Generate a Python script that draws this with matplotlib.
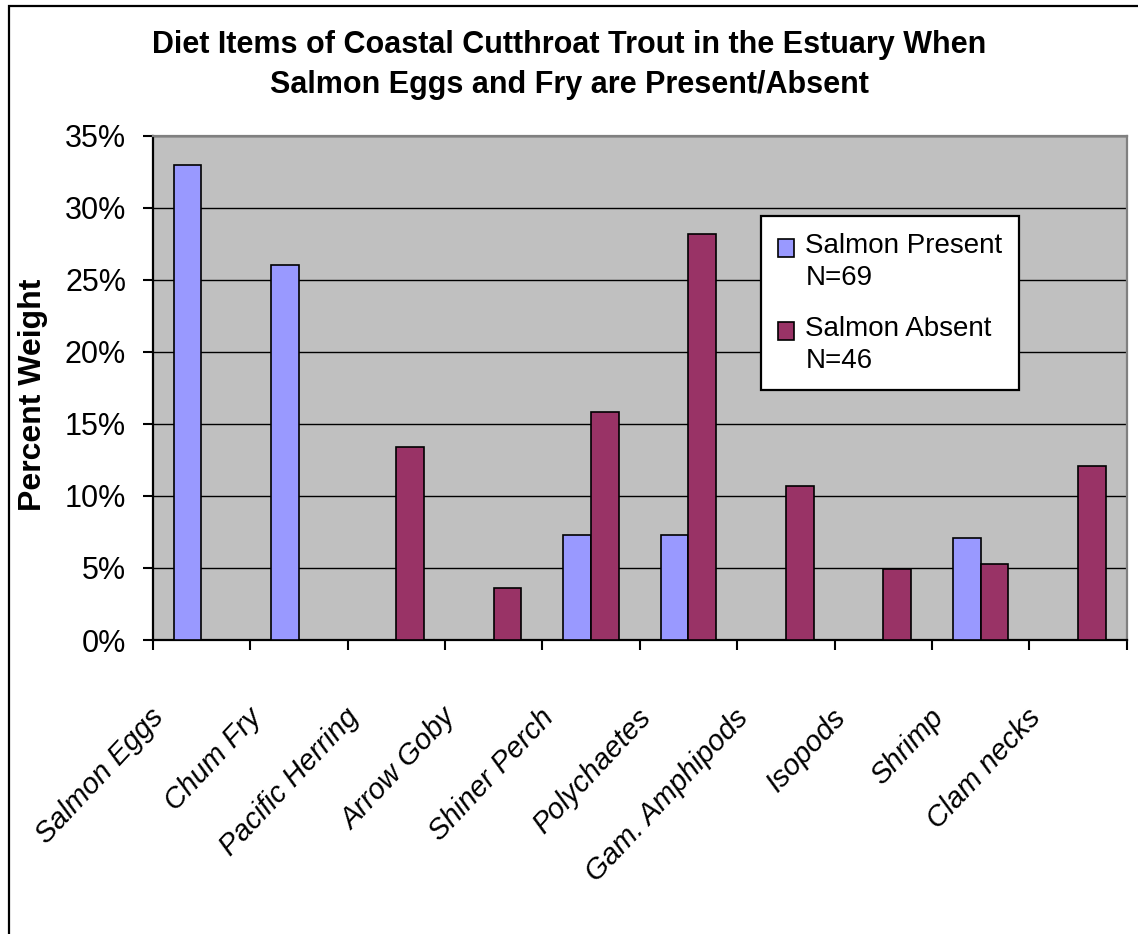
import matplotlib
import matplotlib.pyplot as plt
import numpy as np
from matplotlib.container import BarContainer
from matplotlib.legend_handler import HandlerPatch, update_from_first_child
from matplotlib.patches import Rectangle
from matplotlib.transforms import ScaledTranslation

matplotlib.use("Agg")

plt.rcParams["font.family"] = ["Liberation Sans", "DejaVu Sans"]

# Diet composition (percent weight) per prey item
ITEMS = [
    "Salmon Eggs", "Chum Fry", "Pacific Herring", "Arrow Goby", "Shiner Perch",
    "Polychaetes", "Gam. Amphipods", "Isopods", "Shrimp", "Clam necks",
]
PRESENT = [33.0, 26.0, 0.0, 0.0, 7.3, 7.3, 0.0, 0.0, 7.1, 0.0]
ABSENT = [0.0, 0.0, 13.4, 3.6, 15.8, 28.2, 10.7, 4.9, 5.3, 12.1]
SERIES = ["Salmon Present\nN=69", "Salmon Absent\nN=46"]
YTICKS = [0, 5, 10, 15, 20, 25, 30, 35]
TITLE = ("Diet Items of Coastal Cutthroat Trout in the Estuary When\n"
         "Salmon Eggs and Fry are Present/Absent")

C_PRESENT = "#9999FF"
C_ABSENT = "#993366"


def square_first_line(legend, orig_handle, xdescent, ydescent, width, height, fontsize):
    # put the legend swatch beside the first line of a two-line label
    return Rectangle((-xdescent, -ydescent + 0.5 * fontsize), width, height)


W, H = 1138, 934
fig = plt.figure(figsize=(W / 100, H / 100), dpi=100)
ax = fig.add_axes([152.7 / W, 1 - 640 / H, 974 / W, 504.3 / H])

x = np.arange(len(ITEMS))
bw = 0.285
ax.bar(x - bw / 2, PRESENT, bw, color=C_PRESENT, edgecolor="black", linewidth=1.2,
       label=SERIES[0], zorder=3)
ax.bar(x + bw / 2, ABSENT, bw, color=C_ABSENT, edgecolor="black", linewidth=1.2,
       label=SERIES[1], zorder=3)

ax.set_facecolor("#C0C0C0")
ax.set_xlim(-0.5, len(ITEMS) - 0.5)
ax.set_ylim(0, 35)
ax.set_yticks(YTICKS)
ax.set_yticklabels([f"{v}%" for v in YTICKS], fontsize=22)
ax.yaxis.grid(True, color="black", linewidth=1.0)
ax.set_axisbelow(True)

ax.set_xticks(np.arange(-0.5, len(ITEMS), 1))
ax.set_xticklabels([])
ax.tick_params(axis="both", direction="out", length=7.2, width=1.5, color="black")
ax.tick_params(axis="y", pad=12)

for side in ("left", "bottom"):
    ax.spines[side].set_color("black")
    ax.spines[side].set_linewidth(1.6)
for side in ("top", "right"):
    ax.spines[side].set_color("#808080")
    ax.spines[side].set_linewidth(1.6)

# slanted category labels hanging below the axis
shift = ScaledTranslation(-0.42, -0.73, fig.dpi_scale_trans)
for i, name in enumerate(ITEMS):
    ax.text(i, 0, name, transform=ax.transData + shift, rotation=47,
            rotation_mode="anchor", ha="right", va="center", fontsize=21,
            style="italic")

fig.text(33.5 / W, 1 - 395 / H, "Percent Weight", rotation=90, ha="center",
         va="center", fontsize=23, fontweight="bold")
fig.text(0.5, 1 - 65 / H, TITLE, ha="center", va="center", fontsize=22,
         fontweight="bold", linespacing=1.4)

swatch = HandlerPatch(patch_func=square_first_line, update_func=update_from_first_child)
leg = ax.legend(loc="upper left", bbox_to_anchor=(0.6245, 0.8408), borderaxespad=0,
                fontsize=20, frameon=True, fancybox=False, framealpha=1,
                edgecolor="black", handlelength=0.6, handleheight=0.6,
                handletextpad=0.4, borderpad=0.6, labelspacing=0.9,
                handler_map={BarContainer: swatch})
leg.get_frame().set_linewidth(1.6)
for t in leg.get_texts():
    t.set_linespacing(1.3)

# outer chart frame
fig.patches.append(Rectangle((9 / W, -0.1), 1.2, 1.1 - 6 / H, transform=fig.transFigure,
                             fill=False, edgecolor="black", linewidth=1.6))

fig.savefig("out.png", dpi=100)
